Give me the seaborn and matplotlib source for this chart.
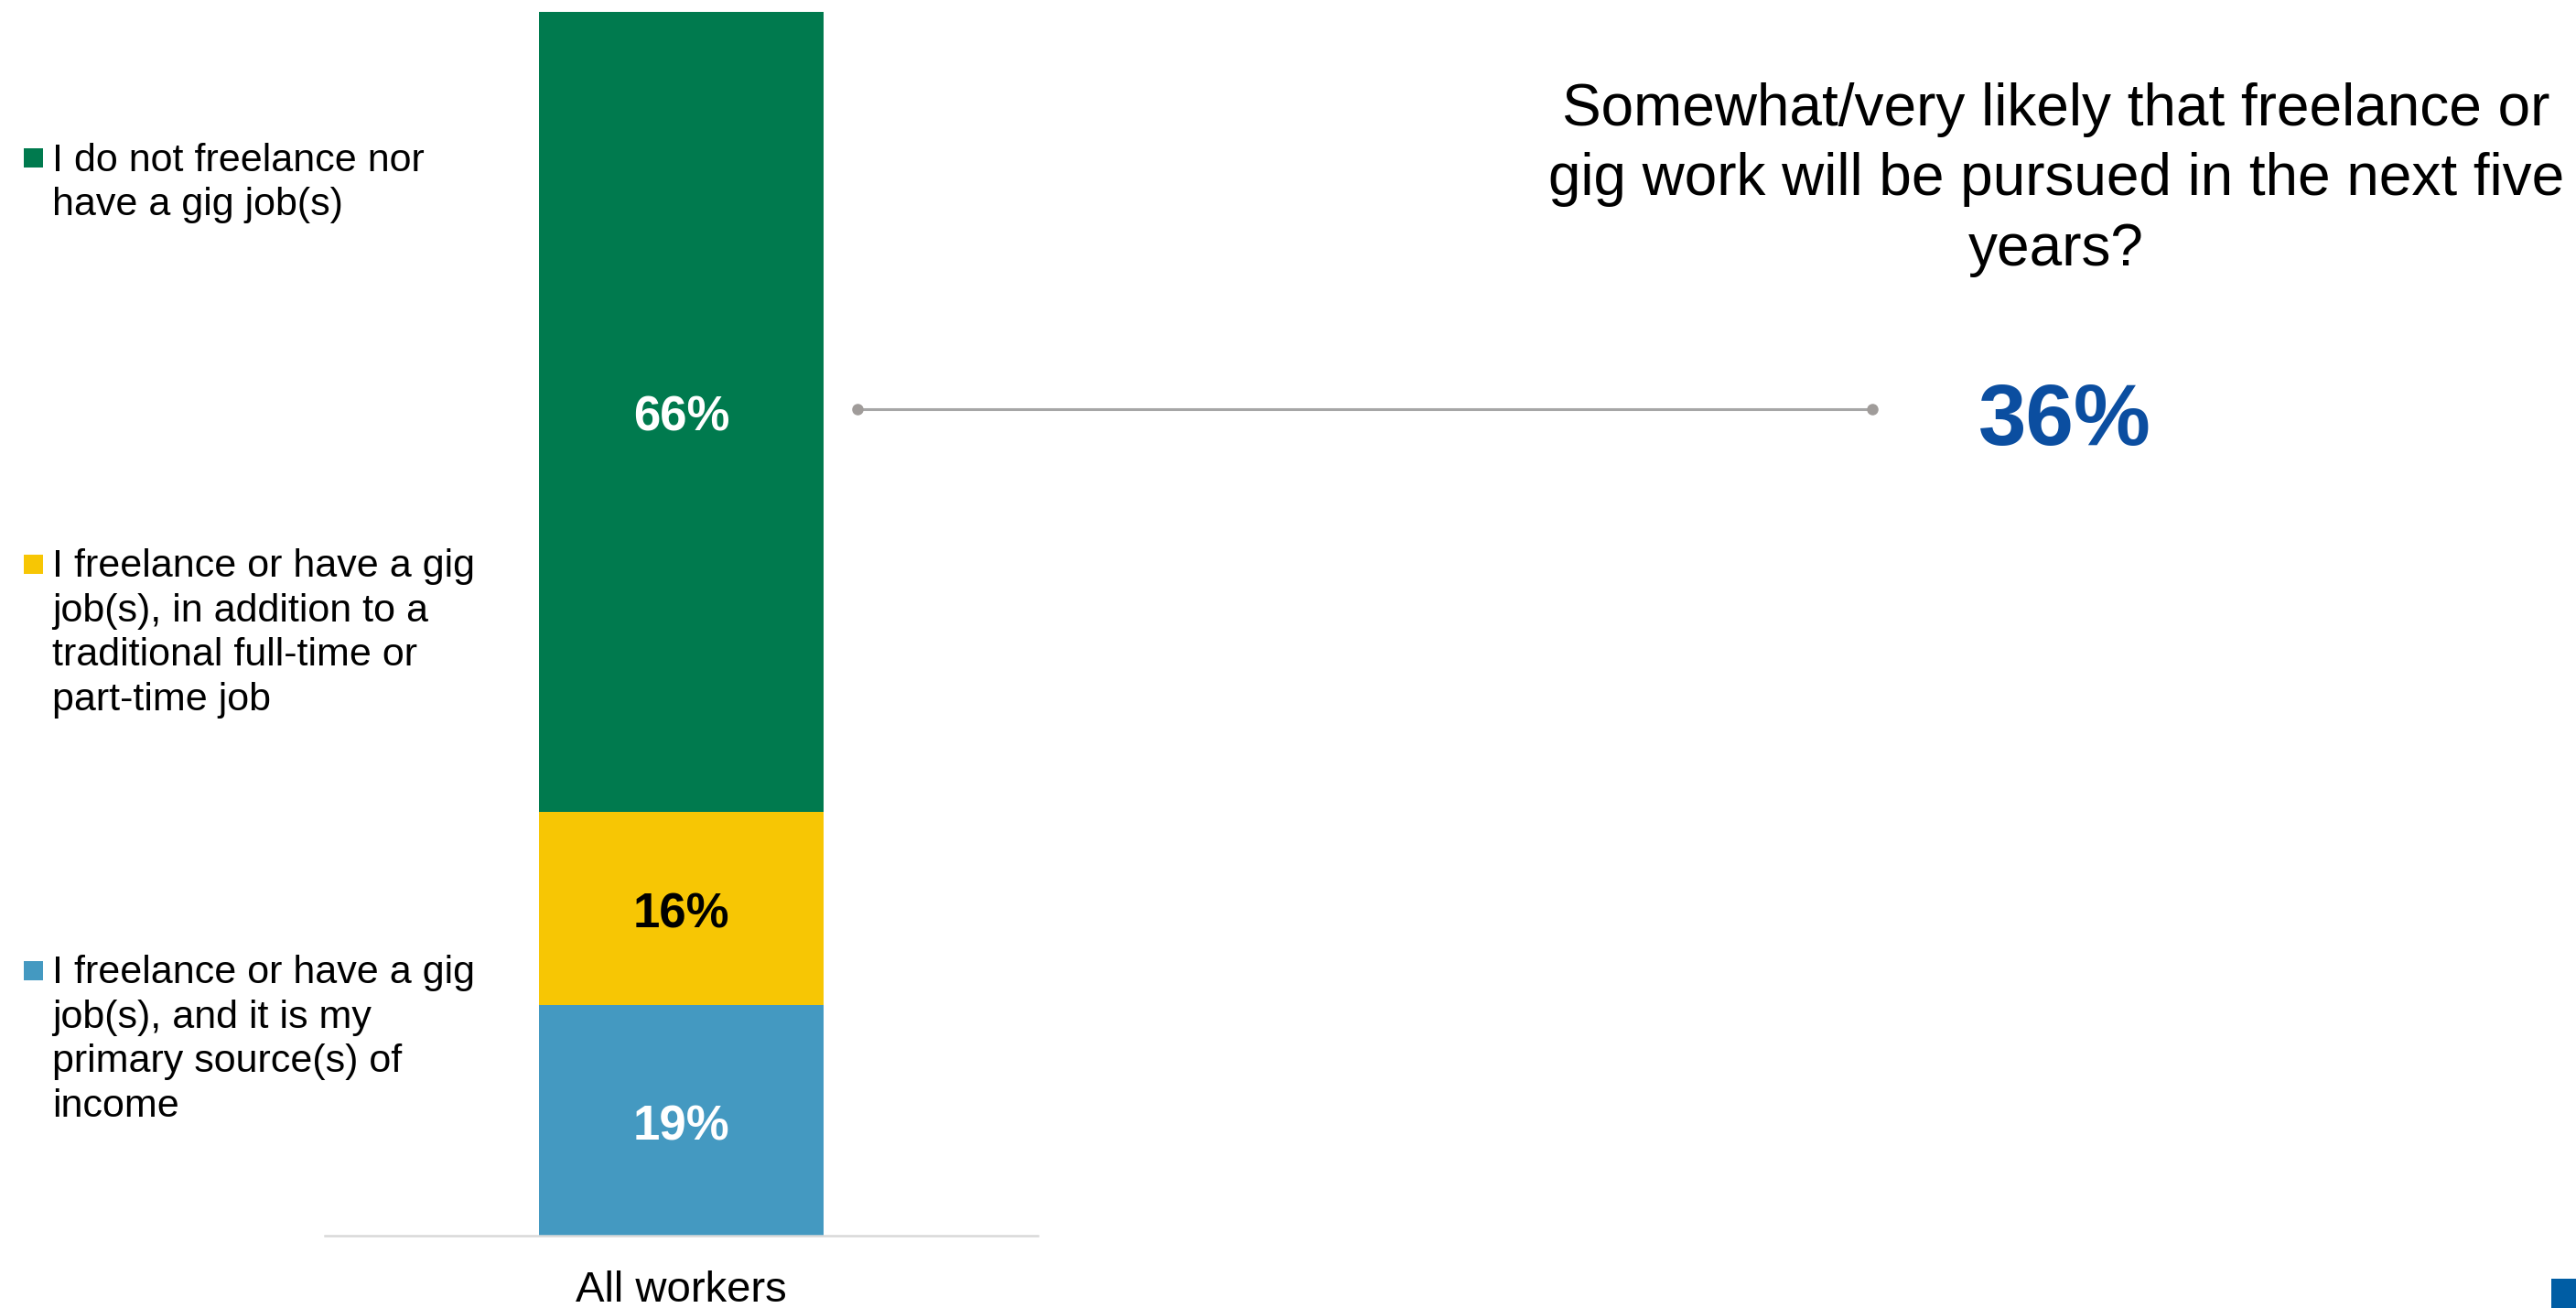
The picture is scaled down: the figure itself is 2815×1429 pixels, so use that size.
import numpy as np
import pandas as pd
import matplotlib
matplotlib.use("Agg")
import matplotlib.pyplot as plt
import seaborn as sns
from matplotlib.lines import Line2D
from matplotlib.patches import Rectangle

# ---------------- data ----------------
categories = ["All workers"]
segment_names = [
    "I freelance or have a gig job(s), and it is my primary source(s) of income",
    "I freelance or have a gig job(s), in addition to a traditional full-time or part-time job",
    "I do not freelance nor have a gig job(s)",
]
values = [19, 16, 66]
value_labels = ["19%", "16%", "66%"]
seg_colors = ["#4499C1", "#F7C604", "#007A4E"]
label_colors = ["white", "black", "white"]
legend_lines = [
    ["I freelance or have a gig", "job(s), and it is my", "primary source(s) of", "income"],
    ["I freelance or have a gig", "job(s), in addition to a", "traditional full-time or", "part-time job"],
    ["I do not freelance nor", "have a gig job(s)"],
]
headline_lines = ["Somewhat/very likely that freelance or",
                  "gig work will be pursued in the next five",
                  "years?"]
headline_value = "36%"

# ---------------- style ----------------
sns.set_style("white")
plt.rcParams["font.family"] = ["Liberation Sans", "DejaVu Sans"]

W, H = 2815, 1429
fig = plt.figure(figsize=(W / 100, H / 100), dpi=100)
fig.patch.set_facecolor("white")

def fx(px):
    return px / W

def fy(py):
    return 1 - py / H

ax_left, ax_right, ax_top, ax_bottom = 355, 1134, 13, 1350
ax = fig.add_axes([fx(ax_left), fy(ax_bottom), (ax_right - ax_left) / W, (ax_bottom - ax_top) / H])

cum = np.cumsum(values)
df = pd.DataFrame({"category": categories * len(values), "segment": segment_names,
                   "value": values, "cum": cum})

# draw stacked bar: largest cumulative first, then overlay smaller ones
for i in reversed(range(len(values))):
    sub = df.iloc[[i]]
    sns.barplot(data=sub, x="category", y="cum", color=seg_colors[i], saturation=1,
                width=0.8, ax=ax, errorbar=None, linewidth=0)

for i in range(len(values)):
    ax.annotate(value_labels[i], xy=(0, cum[i] - values[i] / 2), xytext=(0, -5),
                textcoords="offset points", ha="center", va="center",
                fontsize=38, fontweight="bold", color=label_colors[i])

ax.set_ylim(0, cum[-1])
ax.set_xlim(-1, 1)
ax.set_yticks([])
ax.set_xlabel("")
ax.set_ylabel("")
for s in ["top", "left", "right"]:
    ax.spines[s].set_visible(False)
ax.spines["bottom"].set_color("#D9D9D9")
ax.spines["bottom"].set_linewidth(1.8)
ax.tick_params(axis="x", length=0, pad=27, labelsize=34, labelcolor="black")

# ---------------- legend (manual, left side) ----------------
leg_first_baselines = [1074, 630, 187]
leg_square_centers = [1060, 616, 172]
line_step = 48.5
for i in range(len(values)):
    c = leg_square_centers[i]
    fig.add_artist(Rectangle((fx(26), fy(c + 10.5)), 21 / W, 21 / H,
                             transform=fig.transFigure, facecolor=seg_colors[i],
                             edgecolor="none"))
    for j, line in enumerate(legend_lines[i]):
        fig.text(fx(57), fy(leg_first_baselines[i] + j * line_step), line,
                 ha="left", va="baseline", fontsize=31, color="black")

# ---------------- connector ----------------
fig.add_artist(Line2D([fx(937), fx(2046)], [fy(447), fy(447)], transform=fig.transFigure,
                      color="#A6A6A6", lw=2.2, marker="o", markersize=8,
                      markerfacecolor="#A09C9A", markeredgecolor="#A09C9A"))

# ---------------- headline ----------------
for j, line in enumerate(headline_lines):
    fig.text(fx(2247), fy(137 + j * 76.5), line, ha="center", va="baseline",
             fontsize=46, color="black")
fig.text(fx(2256), fy(486), headline_value, ha="center", va="baseline",
         fontsize=68, fontweight="bold", color="#0B4EA0")

# corner mark
fig.add_artist(Rectangle((fx(2788), 0), 27 / W, 32 / H, transform=fig.transFigure,
                         facecolor="#005DA4", edgecolor="none"))

fig.savefig("out.png", dpi=100, facecolor="white")
